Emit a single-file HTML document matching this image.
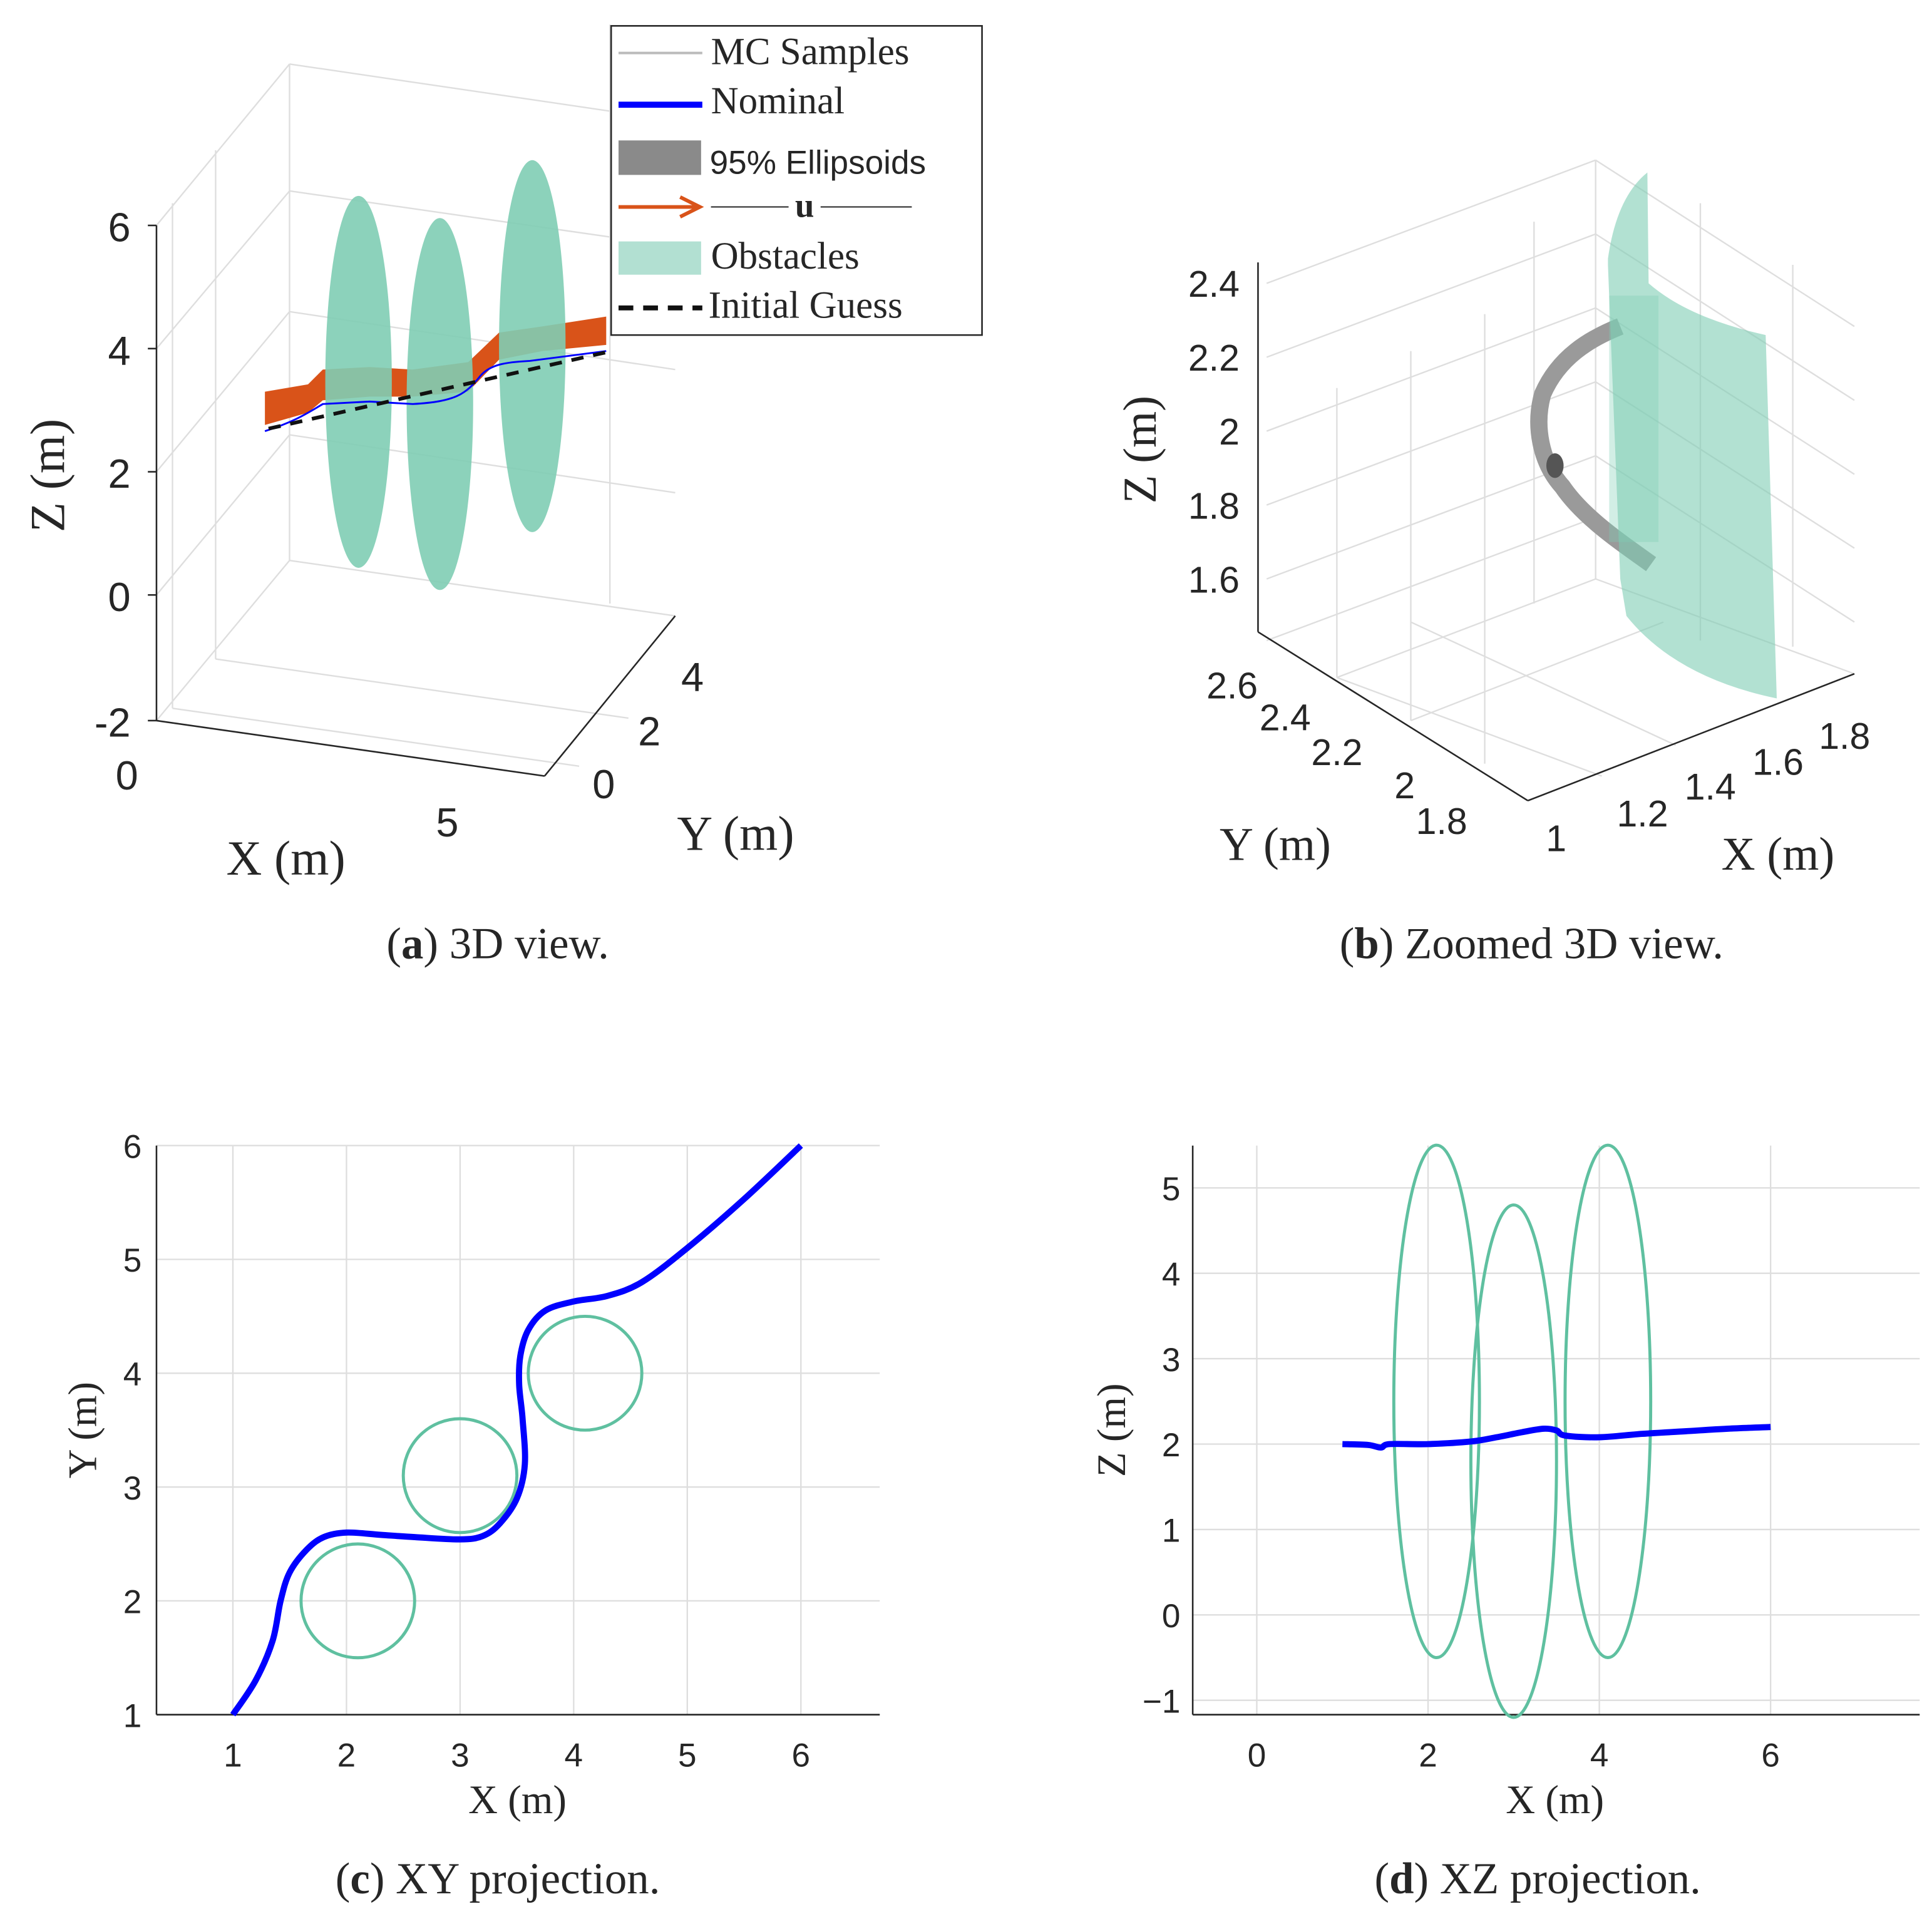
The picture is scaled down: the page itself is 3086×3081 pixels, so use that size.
<!DOCTYPE html>
<html><head><meta charset="utf-8"><style>
html,body{margin:0;padding:0;background:#fff;}
svg{display:block}
.t{font-family:"Liberation Sans",sans-serif;font-size:27px;fill:#262626}
.t3{font-size:33px}
.t2{font-size:30px}
.s{font-family:"Liberation Serif",serif;fill:#262626}
.g{stroke:#dedede;stroke-width:1.2;fill:none}
</style></head><body>
<svg id="fig" width="3086" height="3081" viewBox="0 0 1568 1566" preserveAspectRatio="none" xmlns="http://www.w3.org/2000/svg">
<g>
 <g class="g">
  <line x1="235" y1="52" x2="235" y2="455"/><line x1="235" y1="52" x2="548" y2="98"/>
  <line x1="235" y1="155" x2="548" y2="200"/><line x1="235" y1="253" x2="548" y2="300"/>
  <line x1="235" y1="353" x2="548" y2="400"/><line x1="235" y1="455" x2="548" y2="500"/>
  <line x1="127" y1="183" x2="235" y2="52"/><line x1="127" y1="283" x2="235" y2="155"/>
  <line x1="127" y1="383" x2="235" y2="253"/><line x1="127" y1="483" x2="235" y2="353"/>
  <line x1="127" y1="585" x2="235" y2="455"/>
  <line x1="175" y1="122" x2="175" y2="535"/><line x1="140" y1="165" x2="140" y2="575"/>
  <line x1="175" y1="535" x2="510" y2="583"/><line x1="140" y1="575" x2="470" y2="622"/>
  <line x1="495" y1="20" x2="495" y2="490"/>
 </g>
 <line x1="127" y1="183" x2="127" y2="585" stroke="#262626" stroke-width="1.3"/>
 <line x1="127" y1="585" x2="442" y2="630" stroke="#262626" stroke-width="1.3"/>
 <line x1="442" y1="630" x2="548" y2="500" stroke="#262626" stroke-width="1.3"/>
 <g stroke="#262626" stroke-width="1.3">
  <line x1="120" y1="183" x2="127" y2="183"/><line x1="120" y1="283" x2="127" y2="283"/><line x1="120" y1="383" x2="127" y2="383"/><line x1="120" y1="483" x2="127" y2="483"/><line x1="120" y1="585" x2="127" y2="585"/>
 </g>
 <text class="t t3" x="106" y="196" text-anchor="end">6</text><text class="t t3" x="106" y="296" text-anchor="end">4</text>
 <text class="t t3" x="106" y="396" text-anchor="end">2</text><text class="t t3" x="106" y="496" text-anchor="end">0</text>
 <text class="t t3" x="106" y="598" text-anchor="end">-2</text>
 <text class="t t3" x="103" y="641" text-anchor="middle">0</text><text class="t t3" x="363" y="679" text-anchor="middle">5</text>
 <text class="t t3" x="490" y="648" text-anchor="middle">0</text><text class="t t3" x="527" y="605" text-anchor="middle">2</text><text class="t t3" x="562" y="561" text-anchor="middle">4</text>
 <text class="s" font-size="40" x="232" y="710" text-anchor="middle">X (m)</text>
 <text class="s" font-size="40" x="597" y="690" text-anchor="middle">Y (m)</text>
 <text class="s" font-size="40" transform="translate(52,386) rotate(-90)" text-anchor="middle">Z (m)</text>
 <polygon points="215,318 250,312 262,300 300,298 335,300 380,294 405,270 440,265 492,257 492,280 440,285 405,292 380,318 335,322 300,322 262,325 250,335 215,345" fill="#d95319"/>
 <ellipse cx="291" cy="310" rx="27" ry="151" fill="#7fcdb4" opacity="0.9"/>
 <ellipse cx="357" cy="328" rx="27" ry="151" fill="#7fcdb4" opacity="0.9"/>
 <ellipse cx="432" cy="281" rx="27" ry="151" fill="#7fcdb4" opacity="0.9"/>
 <path d="M215,350 C240,342 250,335 262,328 L300,326 L335,328 C370,326 378,320 390,305 C398,296 410,294 430,293 L492,285" fill="none" stroke="#0000ff" stroke-width="1.5"/>
 <polyline points="218,348 492,286" fill="none" stroke="#111" stroke-width="3" stroke-dasharray="10,8"/>
 <g>
  <rect x="496" y="21" width="301" height="251" fill="#fff" stroke="#262626" stroke-width="1.3"/>
  <line x1="502" y1="43" x2="570" y2="43" stroke="#bbb" stroke-width="2"/>
  <text class="s" font-size="31" x="577" y="52">MC Samples</text>
  <line x1="502" y1="85" x2="570" y2="85" stroke="#0000ff" stroke-width="5"/>
  <text class="s" font-size="31" x="577" y="92">Nominal</text>
  <rect x="502" y="114" width="67" height="28" fill="#8a8a8a"/>
  <text class="t" font-size="31" x="576" y="141" fill="#111">95% Ellipsoids</text>
  <line x1="502" y1="168" x2="566" y2="168" stroke="#d95319" stroke-width="3"/>
  <polyline points="552,160 568,168 552,176" fill="none" stroke="#d95319" stroke-width="3"/>
  <line x1="577" y1="168" x2="740" y2="168" stroke="#262626" stroke-width="1"/>
  <rect x="640" y="152" width="26" height="24" fill="#fff"/>
  <text class="s" font-size="28" font-weight="bold" x="653" y="176" text-anchor="middle">u</text>
  <rect x="502" y="196" width="67" height="27" fill="#b2e0d2"/>
  <text class="s" font-size="31" x="577" y="218">Obstacles</text>
  <line x1="502" y1="250" x2="570" y2="250" stroke="#111" stroke-width="4" stroke-dasharray="12,8"/>
  <text class="s" font-size="31" x="575" y="258">Initial Guess</text>
 </g>
 <text class="s" font-size="36" x="404" y="778" text-anchor="middle">(<tspan font-weight="bold">a</tspan>) 3D view.</text>
</g>
<g>
 <g class="g">
  <line x1="1295" y1="130" x2="1295" y2="470"/>
  <line x1="1028" y1="230" x2="1295" y2="130"/><line x1="1028" y1="290" x2="1295" y2="190"/>
  <line x1="1028" y1="350" x2="1295" y2="250"/><line x1="1028" y1="410" x2="1295" y2="310"/>
  <line x1="1028" y1="470" x2="1295" y2="370"/><line x1="1028" y1="520" x2="1295" y2="420"/>
  <line x1="1295" y1="130" x2="1505" y2="265"/><line x1="1295" y1="190" x2="1505" y2="325"/>
  <line x1="1295" y1="250" x2="1505" y2="385"/><line x1="1295" y1="310" x2="1505" y2="445"/>
  <line x1="1295" y1="370" x2="1505" y2="505"/><line x1="1295" y1="470" x2="1505" y2="547"/>
  <line x1="1085" y1="315" x2="1085" y2="550"/><line x1="1145" y1="285" x2="1145" y2="585"/><line x1="1205" y1="255" x2="1205" y2="620"/>
  <line x1="1245" y1="180" x2="1245" y2="490"/><line x1="1380" y1="165" x2="1380" y2="520"/><line x1="1455" y1="215" x2="1455" y2="525"/>
  <line x1="1085" y1="550" x2="1295" y2="470"/><line x1="1145" y1="585" x2="1350" y2="505"/>
  <line x1="1300" y1="630" x2="1085" y2="550"/><line x1="1360" y1="605" x2="1145" y2="505"/>
 </g>
 <line x1="1021" y1="213" x2="1021" y2="513" stroke="#262626" stroke-width="1.3"/>
 <line x1="1021" y1="513" x2="1240" y2="650" stroke="#262626" stroke-width="1.3"/>
 <line x1="1240" y1="650" x2="1505" y2="547" stroke="#262626" stroke-width="1.3"/>
 <text class="t t2" x="1006" y="241" text-anchor="end">2.4</text><text class="t t2" x="1006" y="301" text-anchor="end">2.2</text>
 <text class="t t2" x="1006" y="361" text-anchor="end">2</text><text class="t t2" x="1006" y="421" text-anchor="end">1.8</text>
 <text class="t t2" x="1006" y="481" text-anchor="end">1.6</text>
 <text class="t t2" x="1000" y="567" text-anchor="middle">2.6</text><text class="t t2" x="1043" y="593" text-anchor="middle">2.4</text>
 <text class="t t2" x="1085" y="621" text-anchor="middle">2.2</text><text class="t t2" x="1140" y="648" text-anchor="middle">2</text>
 <text class="t t2" x="1170" y="677" text-anchor="middle">1.8</text>
 <text class="t t2" x="1263" y="691" text-anchor="middle">1</text><text class="t t2" x="1333" y="671" text-anchor="middle">1.2</text>
 <text class="t t2" x="1388" y="649" text-anchor="middle">1.4</text><text class="t t2" x="1443" y="629" text-anchor="middle">1.6</text>
 <text class="t t2" x="1497" y="608" text-anchor="middle">1.8</text>
 <text class="s" font-size="38" x="1035" y="698" text-anchor="middle">Y (m)</text>
 <text class="s" font-size="38" x="1443" y="706" text-anchor="middle">X (m)</text>
 <text class="s" font-size="38" transform="translate(938,365) rotate(-90)" text-anchor="middle">Z (m)</text>
 <path d="M1315,265 C1290,275 1265,290 1252,320 C1245,345 1250,375 1268,395 C1285,420 1315,440 1340,458" fill="none" stroke="#9a9a9a" stroke-width="14" stroke-linejoin="round"/>
 <ellipse cx="1262" cy="378" rx="7" ry="10" fill="#555"/>
 <path d="M1305,210 Q1312,160 1337,140 L1338,230 Q1370,258 1433,272 L1442,567 Q1360,550 1320,500 L1315,470 L1305,215 Z" fill="#7fcdb4" opacity="0.6"/>
 <rect x="1306" y="240" width="40" height="200" fill="#7fcdb4" opacity="0.35"/>
 <text class="s" font-size="36" x="1243" y="778" text-anchor="middle">(<tspan font-weight="bold">b</tspan>) Zoomed 3D view.</text>
</g>
<g id="pc"></g>
<g id="pd"></g>
<text class="s" font-size="36" x="404" y="1537" text-anchor="middle">(<tspan font-weight="bold">c</tspan>) XY projection.</text>
<text class="s" font-size="36" x="1248" y="1537" text-anchor="middle">(<tspan font-weight="bold">d</tspan>) XZ projection.</text>
</svg>
<script>
const xyPathX=[1,1.2,1.35,1.42,1.5,1.65,1.8,2,2.3,2.6,3,3.2,3.35,3.5,3.57,3.55,3.52,3.53,3.6,3.75,4,4.3,4.6,5,5.5,6];
const xyPathY=[1,1.3,1.65,2,2.25,2.45,2.56,2.6,2.58,2.56,2.54,2.57,2.68,2.9,3.2,3.6,3.9,4.15,4.38,4.55,4.63,4.68,4.8,5.1,5.53,6];
const xyCircX=[2.1,3,4.1];
const xyCircY=[2,3.1,4];
const xyCircR=[0.5,0.5,0.5];
const xyTicksX=[1,2,3,4,5,6];
const xyTicksY=[1,2,3,4,5,6];
const xzPathX=[1,1.3,1.45,1.55,2,2.5,2.8,3.1,3.35,3.5,3.6,4,4.5,5,5.5,6];
const xzPathZ=[2,1.99,1.96,2,2,2.03,2.08,2.14,2.18,2.16,2.1,2.08,2.12,2.15,2.18,2.2];
const xzEllX=[2.1,3,4.1];
const xzEllZ=[2.5,1.8,2.5];
const xzEllRx=[0.5,0.5,0.5];
const xzEllRz=[3,3,3];
const xzTicksX=[0,2,4,6];
const xzTicksZ=[-1,0,1,2,3,4,5];
const NS="http://www.w3.org/2000/svg";
function mk(p,tag,at,txt){const e=document.createElementNS(NS,tag);for(const k in at)e.setAttribute(k,at[k]);if(txt!==undefined)e.textContent=txt;p.appendChild(e);return e;}
function smooth(pts){let d='M'+pts[0][0]+','+pts[0][1];for(let i=0;i<pts.length-1;i++){const p0=pts[Math.max(i-1,0)],p1=pts[i],p2=pts[i+1],p3=pts[Math.min(i+2,pts.length-1)];d+=' C'+(p1[0]+(p2[0]-p0[0])/6)+','+(p1[1]+(p2[1]-p0[1])/6)+' '+(p2[0]-(p3[0]-p1[0])/6)+','+(p2[1]-(p3[1]-p1[1])/6)+' '+p2[0]+','+p2[1];}return d;}
(function(){
 const g=document.getElementById('pc');
 const L=127,R=714,T=930,B=1392;
 const sx=v=>189+(v-1)*92.2, sy=v=>1392-(v-1)*92.4;
 xyTicksX.forEach(v=>{const l=mk(g,'line',{x1:sx(v),x2:sx(v),y1:T,y2:B,class:'g'});
 
 
 const t=mk(g,'text',{x:sx(v),y:B+42,'text-anchor':'middle',class:'t'},v);
 
 });
 xyTicksY.forEach(v=>{mk(g,'line',{x1:L,x2:R,y1:sy(v),y2:sy(v),class:'g'});
 const t=mk(g,'text',{x:L-12,y:sy(v)+10,'text-anchor':'end',class:'t'},v);
 
 });
 mk(g,'line',{x1:L,x2:L,y1:T,y2:B,stroke:'#262626','stroke-width':1.3});
 mk(g,'line',{x1:L,x2:R,y1:B,y2:B,stroke:'#262626','stroke-width':1.3});
 xyCircX.forEach((cx,i)=>{const c=mk(g,'ellipse',{cx:sx(cx),cy:sy(xyCircY[i]),rx:xyCircR[i]*92.2,ry:xyCircR[i]*92.4,fill:'none',stroke:'#5fc0a0','stroke-width':2.5});
 
 });
 const p=mk(g,'path',{d:smooth(xyPathX.map((x,i)=>[sx(x),sy(xyPathY[i])])),fill:'none',stroke:'#0000ff','stroke-width':5,'stroke-linejoin':'round'});
 
 
 const xt=mk(g,'text',{x:420,y:1472,'text-anchor':'middle',class:'s','font-size':33},'X (m)');
 
 
 const yt=mk(g,'text',{transform:'translate(78,1161) rotate(-90)','text-anchor':'middle',class:'s','font-size':33},'Y (m)');
 
 
})();
(function(){
 const g=document.getElementById('pd');
 const L=968,R=1558,T=930,B=1392;
 const sx=v=>1020+v*69.5, sy=v=>1311-v*69.33;
 xzTicksX.forEach(v=>{mk(g,'line',{x1:sx(v),x2:sx(v),y1:T,y2:B,class:'g'});
 const t=mk(g,'text',{x:sx(v),y:B+42,'text-anchor':'middle',class:'t'},v);
 
 });
 xzTicksZ.forEach(v=>{mk(g,'line',{x1:L,x2:R,y1:sy(v),y2:sy(v),class:'g'});
 const t=mk(g,'text',{x:L-10,y:sy(v)+10,'text-anchor':'end',class:'t'},v<0?'\u2212'+(-v):v);
 
 });
 mk(g,'line',{x1:L,x2:L,y1:T,y2:B,stroke:'#262626','stroke-width':1.3});
 mk(g,'line',{x1:L,x2:R,y1:B,y2:B,stroke:'#262626','stroke-width':1.3});
 xzEllX.forEach((cx,i)=>{const c=mk(g,'ellipse',{cx:sx(cx),cy:sy(xzEllZ[i]),rx:xzEllRx[i]*69.5,ry:xzEllRz[i]*69.33,fill:'none',stroke:'#5fc0a0','stroke-width':2.5});
 
 });
 const p=mk(g,'path',{d:smooth(xzPathX.map((x,i)=>[sx(x),sy(xzPathZ[i])])),fill:'none',stroke:'#0000ff','stroke-width':5,'stroke-linejoin':'round'});
 
 
 const xt=mk(g,'text',{x:1262,y:1472,'text-anchor':'middle',class:'s','font-size':33},'X (m)');
 
 
 const yt=mk(g,'text',{transform:'translate(913,1161) rotate(-90)','text-anchor':'middle',class:'s','font-size':33},'Z (m)');
 
 
})();
</script>
</body></html>
